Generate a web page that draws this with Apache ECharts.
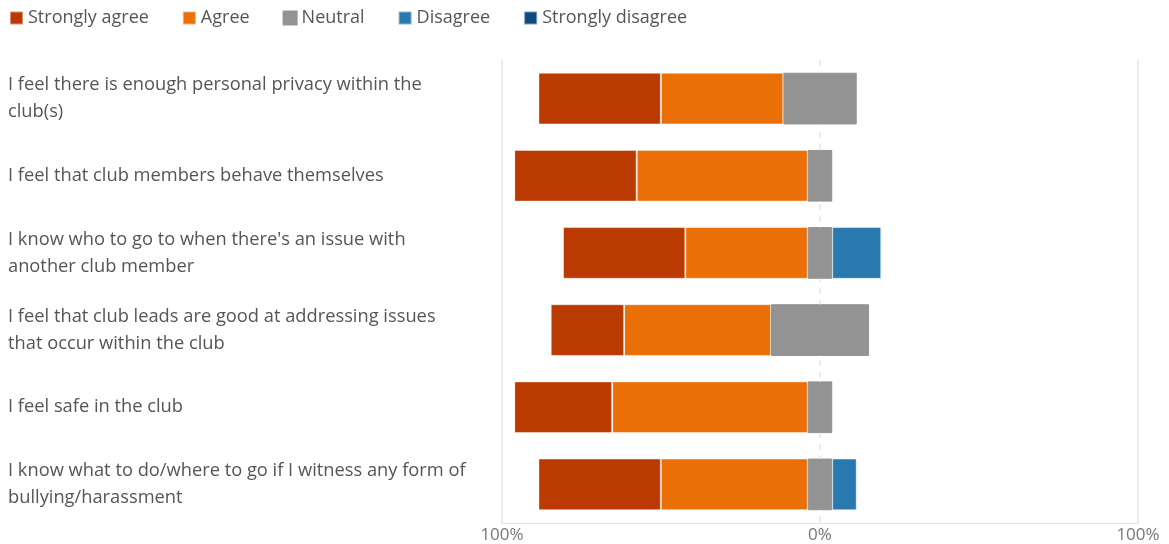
<!DOCTYPE html>
<html>
<head>
<meta charset="utf-8">
<script src="https://cdn.jsdelivr.net/npm/echarts@6/dist/echarts.min.js"></script>
<style>
  html, body { margin: 0; padding: 0; background: #fff; }
  #chart { width: 1169px; height: 544px; }
</style>
</head>
<body>
<div id="chart"></div>
<script>
// Survey statements (top to bottom)
const statements = [
  "I feel there is enough personal privacy within the\nclub(s)",
  "I feel that club members behave themselves",
  "I know who to go to when there's an issue with\nanother club member",
  "I feel that club leads are good at addressing issues\nthat occur within the club",
  "I feel safe in the club",
  "I know what to do/where to go if I witness any form of\nbullying/harassment"
];

// Share of responses (%) per statement
const stronglyAgree    = [38.5, 38.5, 38.5, 23.1, 30.8, 38.5];
const agree            = [38.5, 53.8, 38.5, 46.2, 61.5, 46.2];
const neutral          = [23.1, 7.7, 7.7, 30.8, 7.7, 7.7];
const disagree         = [0, 0, 15.4, 0, 0, 7.7];
const stronglyDisagree = [0, 0, 0, 0, 0, 0];

const axisTicks = [-100, 0, 100];

const colors = {
  sa: '#BA3A02',
  a: '#EA6F07',
  n: '#939393',
  d: '#2A78B0',
  sd: '#0E4A7F'
};

const FONT = '"Open Sans", "Noto Sans", sans-serif';

// Agreement grows leftwards from zero, disagreement rightwards;
// neutral is split evenly across the zero line.
const neg = arr => arr.map(v => -v);
const half = arr => arr.map(v => v / 2);

function bar(name, data, color, border) {
  return {
    name, type: 'bar', stack: 'likert', data, z: 3,
    barWidth: '67%',
    itemStyle: { color, borderColor: border || 'rgba(255,255,255,0.45)', borderWidth: 1 },
    emphasis: { disabled: true }
  };
}

const chart = echarts.init(document.getElementById('chart'));
chart.setOption({
  animation: false,
  textStyle: { fontFamily: FONT },
  legend: {
    data: ['Strongly agree', 'Agree', 'Neutral', 'Disagree', 'Strongly disagree'],
    left: 4, top: 4,
    icon: 'rect', itemWidth: 13, itemHeight: 13, itemGap: 33,
    textStyle: { fontSize: 18, color: '#555', fontFamily: FONT }
  },
  grid: { left: 502, right: 31, top: 60, bottom: 21, containLabel: false },
  xAxis: {
    type: 'value', min: -100, max: 100, interval: 100,
    axisLine: { show: true, lineStyle: { color: '#e3e3e3', width: 1 } },
    axisTick: { show: false },
    axisLabel: {
      fontSize: 17, color: '#777', margin: 4,
      formatter: v => axisTicks.includes(v) ? Math.abs(v) + '%' : ''
    },
    splitLine: { show: false }
  },
  yAxis: {
    type: 'category', inverse: true, data: statements,
    axisLine: { show: false },
    axisTick: { show: false },
    axisLabel: {
      align: 'left', margin: 494, fontSize: 18.3, color: '#555', lineHeight: 27,
      fontFamily: FONT
    }
  },
  series: [
    bar('Neutral', neg(half(neutral)), colors.n, colors.n),
    bar('Neutral', half(neutral), colors.n, colors.n),
    bar('Agree', neg(agree), colors.a),
    bar('Disagree', disagree, colors.d),
    bar('Strongly agree', neg(stronglyAgree), colors.sa),
    bar('Strongly disagree', stronglyDisagree, colors.sd),
    {
      // reference lines at -100%, 0% and 100%, kept behind the bars
      type: 'line', data: [], silent: true, z: 1,
      markLine: {
        symbol: 'none', silent: true, label: { show: false }, z: 1,
        data: [
          { xAxis: -100, lineStyle: { color: '#e6e6e6', type: 'solid', width: 1.5 } },
          { xAxis: 0, lineStyle: { color: '#e6e6e6', type: [6, 6], width: 1.5 } },
          { xAxis: 100, lineStyle: { color: '#e6e6e6', type: 'solid', width: 1.5 } }
        ]
      }
    }
  ]
});
</script>
</body>
</html>
